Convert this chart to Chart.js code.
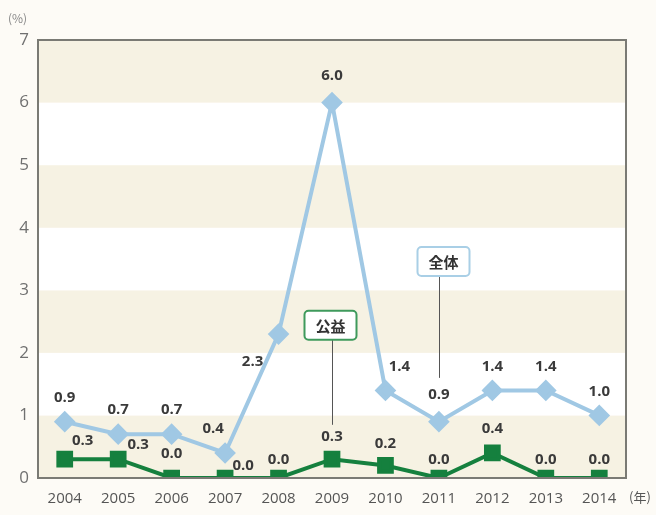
<!DOCTYPE html>
<html><head><meta charset="utf-8">
<script src="https://cdn.jsdelivr.net/npm/chart.js@4"></script>
<style>html,body{margin:0;padding:0;background:#fdfbf6;overflow:hidden;}canvas{display:block;}</style>
</head><body><canvas id="c" width="656" height="515"></canvas>
<script>
const years = ['2004','2005','2006','2007','2008','2009','2010','2011','2012','2013','2014'];
const zentai = [0.9,0.7,0.7,0.4,2.3,6.0,1.4,0.9,1.4,1.4,1.0];
const koeki = [0.3,0.3,0.0,0.0,0.0,0.3,0.2,0.0,0.4,0.0,0.0];
const yTicks = [0,1,2,3,4,5,6,7];
const seriesNames = ['全体','公益'];

// label offsets (style only)
const zOff = [[0,-24],[0,-24],[0,-24],[-12,-24],[-26,28],[0,-27],[14,-24],[0,-27],[0,-24],[0,-24],[0,-24]];
const kOff = [[18,-18],[20,-14],[0,-24],[18,-12],[0,-18],[0,-22],[0,-22],[0,-18],[0,-24],[0,-18],[0,-18]];

const COL_Z = '#a0c8e4', COL_K = '#15803e';

const bgPlugin = {
  id:'bg',
  beforeDraw(chart){
    const {ctx, chartArea:a, scales:{y}} = chart;
    ctx.save();
    for(let v=0; v<7; v++){
      const t=y.getPixelForValue(v+1), b=y.getPixelForValue(v);
      ctx.fillStyle = (v%2===0)?'#f6f2e3':'#ffffff';
      ctx.fillRect(a.left,t,a.right-a.left,b-t);
    }
    ctx.restore();
  },
  afterDatasetsDraw(chart){
    const {ctx, chartArea:a, scales:{x,y}} = chart;
    ctx.save();
    ctx.strokeStyle='#7a7a74'; ctx.lineWidth=2;
    ctx.strokeRect(a.left,a.top,a.right-a.left,a.bottom-a.top);
    ctx.font='bold 15px "Open Sans", sans-serif';
    ctx.fillStyle='#3a3a3a'; ctx.textAlign='center'; ctx.textBaseline='middle';
    zentai.forEach((v,i)=>{
      ctx.fillText(v.toFixed(1), x.getPixelForValue(i)+zOff[i][0], y.getPixelForValue(v)+zOff[i][1]);
    });
    koeki.forEach((v,i)=>{
      ctx.fillText(v.toFixed(1), x.getPixelForValue(i)+kOff[i][0], y.getPixelForValue(v)+kOff[i][1]);
    });
    function callout(text, idx, dx, vBox, vEnd, color){
      const px = Math.round(x.getPixelForValue(idx))+0.5;
      const cx = px+dx, cy = y.getPixelForValue(vBox);
      const w=52, h=29;
      ctx.strokeStyle='#555'; ctx.lineWidth=1;
      ctx.beginPath(); ctx.moveTo(px, cy+h/2); ctx.lineTo(px, y.getPixelForValue(vEnd)); ctx.stroke();
      ctx.fillStyle='#ffffff'; ctx.strokeStyle=color; ctx.lineWidth=2;
      ctx.beginPath(); ctx.roundRect(cx-w/2, cy-h/2, w, h, 4); ctx.fill(); ctx.stroke();
      ctx.fillStyle='#333'; ctx.font='bold 15px "Noto Sans CJK JP", sans-serif';
      ctx.fillText(text, cx, cy+1);
    }
    callout(seriesNames[0], 7, 4, 3.46, 1.6, '#a9cfe6');
    callout(seriesNames[1], 5, -2, 2.44, 0.85, '#3f9a5c');
    ctx.fillStyle='#888'; ctx.font='12px "Noto Sans CJK JP", sans-serif'; ctx.textAlign='left';
    ctx.fillText('(%)', 8, 18);
    ctx.fillStyle='#555'; ctx.font='13px "Noto Sans CJK JP", sans-serif';
    ctx.fillText('(年)', 629, 497);
    ctx.restore();
  }
};

new Chart(document.getElementById('c'), {
  type:'line',
  data:{
    labels: years,
    datasets:[
      {label:seriesNames[0], data:zentai, borderColor:COL_Z, backgroundColor:COL_Z, borderWidth:4,
       pointStyle:'rectRot', pointRadius:8, pointHoverRadius:8, tension:0},
      {label:seriesNames[1], data:koeki, borderColor:COL_K, backgroundColor:COL_K, borderWidth:4,
       pointStyle:'rect', pointRadius:9, pointHoverRadius:9, tension:0}
    ]
  },
  options:{
    responsive:false, animation:false, devicePixelRatio:1,
    layout:{padding:{top:40,right:30,left:0,bottom:0}},
    plugins:{legend:{display:false}, tooltip:{enabled:false}},
    scales:{
      x:{offset:true, grid:{display:false}, border:{display:false},
         ticks:{color:'#555', font:{family:'"Open Sans", sans-serif', size:15}, padding:4, maxRotation:0},
         afterFit(s){s.height=37;}},
      y:{min:0, max:7, grid:{display:false}, border:{display:false},
         afterBuildTicks(s){s.ticks=yTicks.map(v=>({value:v}));},
         ticks:{color:'#707070', font:{family:'"Open Sans", sans-serif', size:17}, padding:1},
         afterFit(s){s.width=38;}}
    }
  },
  plugins:[bgPlugin]
});
</script>
</body></html>
